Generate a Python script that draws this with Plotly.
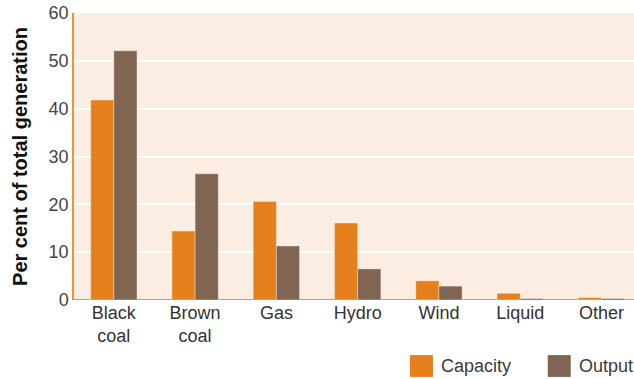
import plotly.graph_objects as go

categories = ["Black<br>coal", "Brown<br>coal", "Gas", "Hydro", "Wind", "Liquid", "Other"]
capacity = [41.8, 14.4, 20.6, 16.1, 4.0, 1.4, 0.5]
output = [52.1, 26.4, 11.3, 6.5, 2.9, 0.3, 0.3]
series_names = ["Capacity", "Output"]
series_colors = ["#E5801C", "#7F6552"]
y_ticks = [0, 10, 20, 30, 40, 50, 60]

fig = go.Figure()
for name, vals, col in zip(series_names, [capacity, output], series_colors):
    fig.add_trace(go.Bar(
        x=list(range(len(categories))), y=vals, name=name,
        marker=dict(color=col, line=dict(color="rgba(255,255,255,0.35)", width=1)),
        showlegend=False,
    ))

# custom legend (large swatches)
legend_x = [0.6, 0.846]
for name, col, lx in zip(series_names, series_colors, legend_x):
    fig.add_shape(type="rect", xref="paper", yref="paper",
                  x0=lx, x1=lx + 0.041, y0=-0.192, y1=-0.268,
                  fillcolor=col, line=dict(width=0))
    fig.add_annotation(xref="paper", yref="paper", x=lx + 0.052, y=-0.230,
                       text=name, showarrow=False, xanchor="left", yanchor="middle",
                       font=dict(size=18, color="#3a3a3a"))

fig.update_layout(
    width=634, height=379,
    margin=dict(l=74, r=0, t=13, b=79),
    paper_bgcolor="white", plot_bgcolor="#FBEDE1",
    barmode="group", bargap=0.43, bargroupgap=0,
    font=dict(family="Liberation Sans, Arial, sans-serif", size=18, color="#444444"),
    xaxis=dict(
        tickmode="array", tickvals=list(range(len(categories))), ticktext=categories,
        range=[-0.49, 6.4], showgrid=False, showline=False, zeroline=False,
        ticks="", ticklen=0, tickfont=dict(size=18, color="#333333"),
    ),
    yaxis=dict(
        range=[0, 60], tickvals=y_ticks, showgrid=True, gridcolor="white", gridwidth=2,
        showline=True, linecolor="#E8943C", linewidth=1.5,
        zeroline=False, ticks="", tickfont=dict(size=18, color="#444444"),
        title=dict(text="<b>Per cent of total generation</b>", standoff=16,
                   font=dict(size=20, color="#111111")),
    ),
)
fig.add_shape(type="line", xref="paper", yref="y", x0=0, x1=1, y0=0, y1=0,
              layer="below", line=dict(color="#E8943C", width=2))

fig.write_html("out.html")
